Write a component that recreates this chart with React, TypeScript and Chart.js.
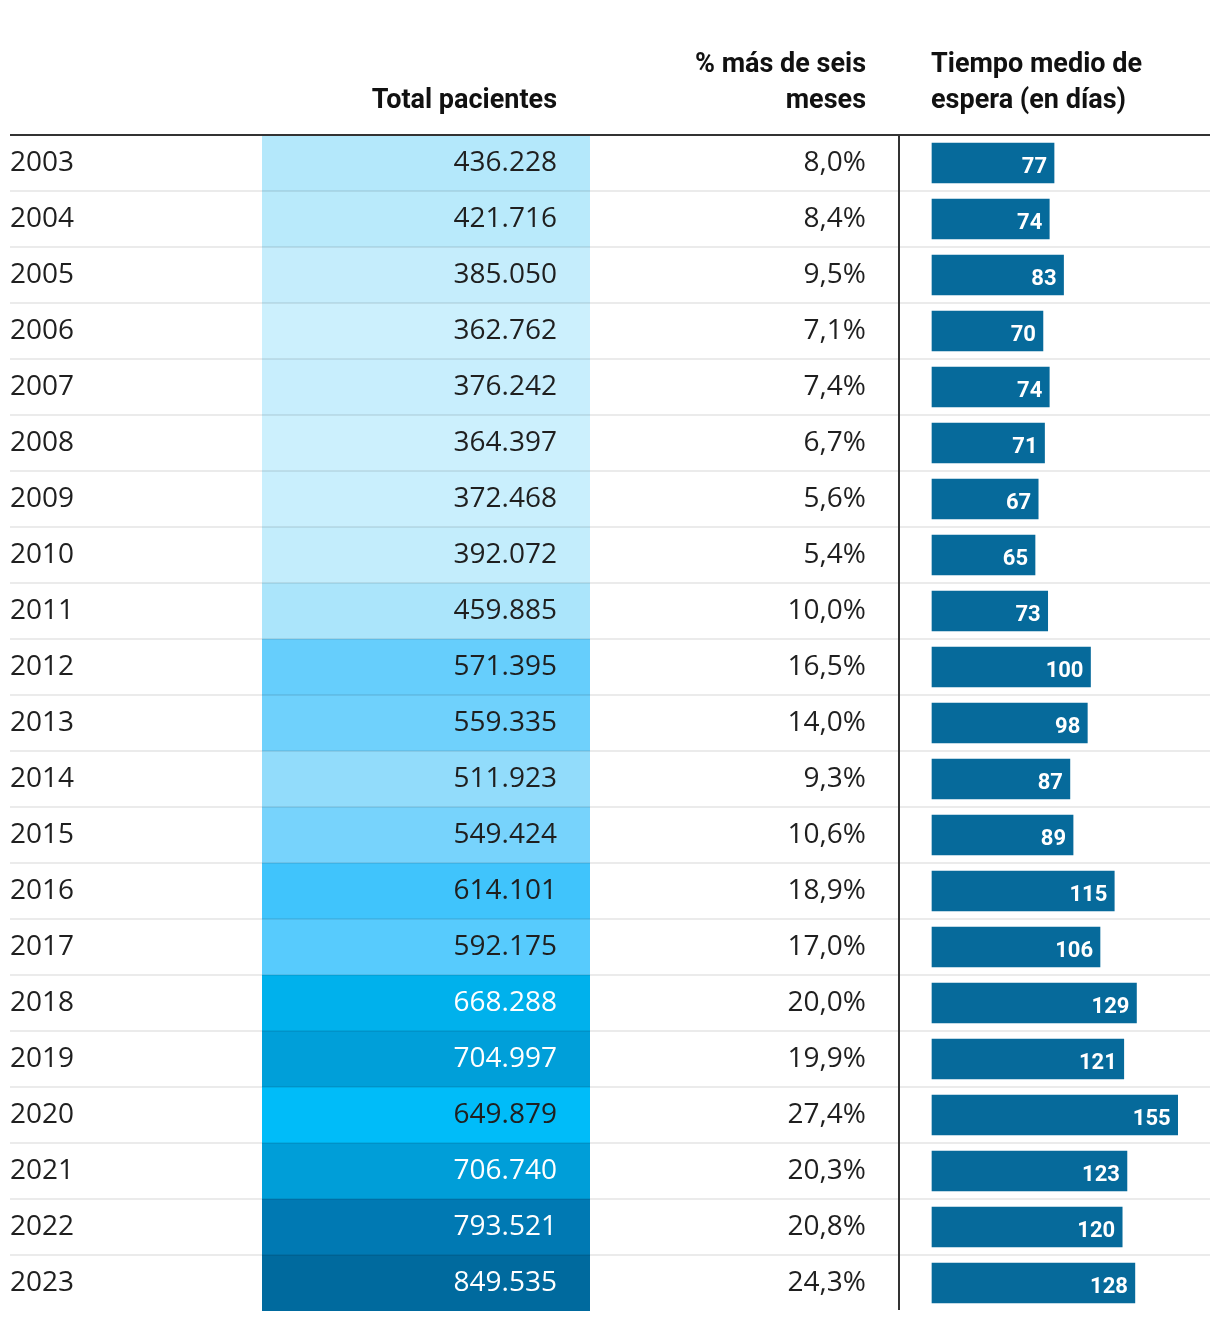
import React, { useEffect, useRef } from 'react';
import { Chart, registerables } from 'chart.js';

Chart.register(...registerables);

const years = ['2003', '2004', '2005', '2006', '2007', '2008', '2009', '2010', '2011', '2012', '2013', '2014', '2015', '2016', '2017', '2018', '2019', '2020', '2021', '2022', '2023'];
const totalPatients = [436228, 421716, 385050, 362762, 376242, 364397, 372468, 392072, 459885, 571395, 559335, 511923, 549424, 614101, 592175, 668288, 704997, 649879, 706740, 793521, 849535];
const pctOverSixMonths = [8.0, 8.4, 9.5, 7.1, 7.4, 6.7, 5.6, 5.4, 10.0, 16.5, 14.0, 9.3, 10.6, 18.9, 17.0, 20.0, 19.9, 27.4, 20.3, 20.8, 24.3];
const avgWaitDays = [77, 74, 83, 70, 74, 71, 67, 65, 73, 100, 98, 87, 89, 115, 106, 129, 121, 155, 123, 120, 128];

const headerTotal = ['Total pacientes'];
const headerPct = ['% más de seis', 'meses'];
const headerWait = ['Tiempo medio de', 'espera (en días)'];

// colour scale for the "Total pacientes" cells (style definition)
const COLOR_STOPS: [number, string][] = [
  [360000, '#cdf0fd'],
  [440000, '#b3e8fb'],
  [460000, '#abe5fb'],
  [512000, '#92dcfb'],
  [550000, '#77d3fc'],
  [571000, '#66cefc'],
  [592000, '#57cbfd'],
  [614000, '#40c4fc'],
  [650000, '#00bcf9'],
  [668000, '#00b1ec'],
  [706000, '#009ed8'],
  [793000, '#0079b3'],
  [850000, '#006a9e'],
];

function hexToRgb(h: string) {
  return [parseInt(h.slice(1, 3), 16), parseInt(h.slice(3, 5), 16), parseInt(h.slice(5, 7), 16)];
}
function colorFor(v: number) {
  if (v <= COLOR_STOPS[0][0]) return COLOR_STOPS[0][1];
  for (let i = 1; i < COLOR_STOPS.length; i++) {
    const [v1, c1] = COLOR_STOPS[i];
    const [v0, c0] = COLOR_STOPS[i - 1];
    if (v <= v1) {
      const t = (v - v0) / (v1 - v0);
      const a = hexToRgb(c0), b = hexToRgb(c1);
      const m = a.map((x, k) => Math.round(x + (b[k] - x) * t));
      return `rgb(${m[0]},${m[1]},${m[2]})`;
    }
  }
  return COLOR_STOPS[COLOR_STOPS.length - 1][1];
}

function fmtThousands(n: number) {
  return String(n).replace(/\B(?=(\d{3})+(?!\d))/g, '.');
}
function fmtPct(n: number) {
  return n.toFixed(1).replace('.', ',') + '%';
}

const BODY_FONT = '400 28px "Open Sans", "Noto Sans", sans-serif';
const HEAD_FONT = '700 27px Roboto, "Liberation Sans", sans-serif';
const BAR_FONT = '700 22px Roboto, "Liberation Sans", sans-serif';
const TEXT_COLOR = '#1f1f1f';
const BAR_COLOR = '#066a9b';

const COL_LEFT = 10;
const COL_RIGHT = 1210;
const CELL_X0 = 262;
const CELL_X1 = 590;
const TOTAL_RIGHT = 557;
const PCT_RIGHT = 866;
const DIVIDER_X = 899;
const WAIT_LEFT = 931;

const tablePlugin = {
  id: 'tablePlugin',
  beforeDatasetsDraw(chart: any) {
    const { ctx, chartArea, scales } = chart;
    const y = scales.y;
    const rowH = y.getPixelForValue(1) - y.getPixelForValue(0);
    ctx.save();
    totalPatients.forEach((v, i) => {
      const cy = y.getPixelForValue(i);
      ctx.fillStyle = colorFor(v);
      ctx.fillRect(CELL_X0, cy - rowH / 2, CELL_X1 - CELL_X0, rowH);
    });
    ctx.fillStyle = 'rgba(0,0,0,0.08)';
    for (let i = 1; i < years.length; i++) {
      const yy = Math.round(y.getPixelForValue(i) - rowH / 2);
      ctx.fillRect(COL_LEFT, yy - 1, COL_RIGHT - COL_LEFT, 2);
    }
    ctx.fillStyle = '#333333';
    ctx.fillRect(COL_LEFT, chartArea.top - 1, COL_RIGHT - COL_LEFT, 2);
    ctx.fillRect(DIVIDER_X - 1, chartArea.top, 2, chartArea.bottom - chartArea.top - 1);
    ctx.restore();
  },
  afterDatasetsDraw(chart: any) {
    const { ctx, scales } = chart;
    const y = scales.y;
    const meta = chart.getDatasetMeta(0);
    ctx.save();
    ctx.textBaseline = 'alphabetic';
    ctx.font = HEAD_FONT;
    ctx.fillStyle = '#111111';
    ctx.textAlign = 'right';
    headerTotal.forEach((t, k) => ctx.fillText(t, TOTAL_RIGHT, 108 - (headerTotal.length - 1 - k) * 36));
    headerPct.forEach((t, k) => ctx.fillText(t, PCT_RIGHT, 108 - (headerPct.length - 1 - k) * 36));
    ctx.textAlign = 'left';
    headerWait.forEach((t, k) => ctx.fillText(t, WAIT_LEFT, 108 - (headerWait.length - 1 - k) * 36));

    ctx.font = BODY_FONT;
    years.forEach((yr, i) => {
      const cy = y.getPixelForValue(i);
      const base = cy + 8;
      ctx.fillStyle = TEXT_COLOR;
      ctx.textAlign = 'left';
      ctx.fillText(yr, COL_LEFT, base);
      ctx.textAlign = 'right';
      ctx.fillStyle = totalPatients[i] > 660000 ? '#ffffff' : TEXT_COLOR;
      ctx.fillText(fmtThousands(totalPatients[i]), TOTAL_RIGHT, base);
      ctx.fillStyle = TEXT_COLOR;
      ctx.fillText(fmtPct(pctOverSixMonths[i]), PCT_RIGHT, base);
    });

    ctx.font = BAR_FONT;
    ctx.fillStyle = '#ffffff';
    ctx.textAlign = 'right';
    meta.data.forEach((bar: any, i: number) => {
      ctx.fillText(String(avgWaitDays[i]), bar.x - 7, bar.y + 10);
    });
    ctx.restore();
  },
};

export default function App() {
  const ref = useRef<HTMLCanvasElement | null>(null);
  useEffect(() => {
    document.body.style.margin = '0';
    const canvas = ref.current!;
    const chart = new Chart(canvas, {
      type: 'bar',
      data: {
        labels: years,
        datasets: [
          {
            label: 'Tiempo medio de espera (en días)',
            data: avgWaitDays,
            backgroundColor: BAR_COLOR,
            barThickness: 40,
            borderWidth: 0,
          },
        ],
      },
      options: {
        indexAxis: 'y',
        responsive: false,
        animation: false,
        devicePixelRatio: 1,
        layout: { padding: { top: 135, bottom: 9, left: 10, right: 10 } },
        scales: {
          y: { type: 'category', display: false, offset: true, grid: { display: false } },
          x: { type: 'linear', display: false, min: -581.7, max: 175.4, grid: { display: false } },
        },
        plugins: {
          legend: { display: false },
          tooltip: { enabled: false },
          title: { display: false },
        },
      },
      plugins: [tablePlugin],
    });
    return () => chart.destroy();
  }, []);
  return (
    <div style={{ width: 1220, height: 1320, background: '#ffffff' }}>
      <canvas ref={ref} width={1220} height={1320} style={{ display: 'block', width: 1220, height: 1320 }} />
    </div>
  );
}
